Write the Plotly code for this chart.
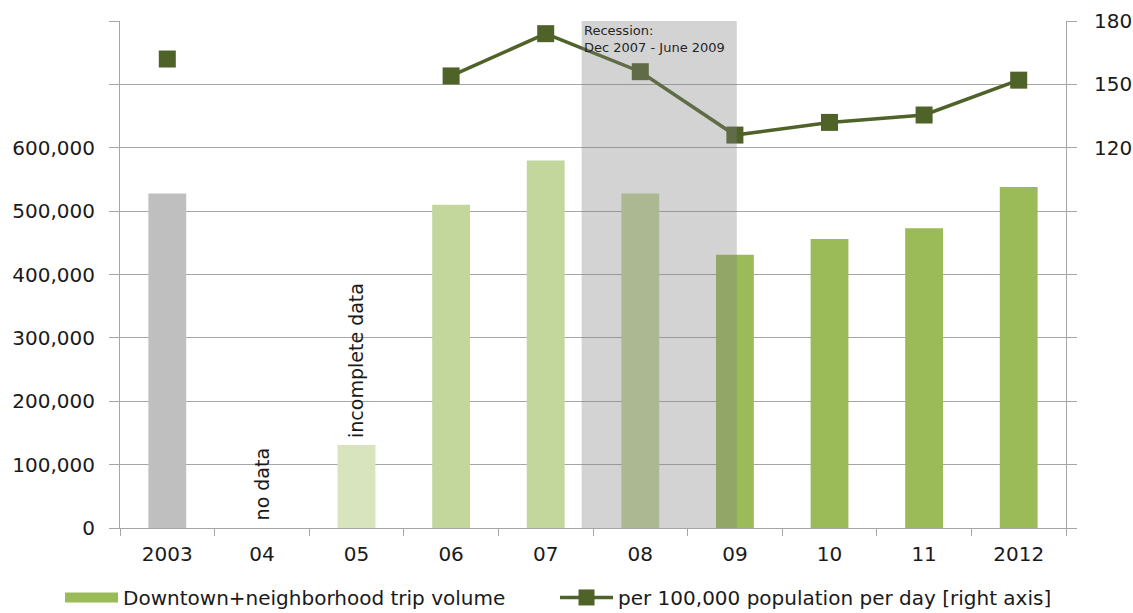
import plotly.graph_objects as go

# Years on the category axis
years = ["2003", "04", "05", "06", "07", "08", "09", "10", "11", "2012"]

# Downtown + neighborhood trip volume (left axis); 2004 has no data
trip_volume = [528000, None, 131000, 510000, 580000, 528000, 431000, 456000, 473000, 538000]

# Trips per 100,000 population per day (right axis)
per_100k = [162, None, None, 154, 174, 156, 126, 132, 135.5, 152]

bar_colors = ["#bfbfbf", "#d7e4bd", "#d7e4bd", "#c3d69b", "#c3d69b",
              "#c3d69b", "#9bbb59", "#9bbb59", "#9bbb59", "#9bbb59"]

left_ticks = list(range(0, 800001, 100000))
left_labels = [f"{v:,}" if v <= 600000 else "" for v in left_ticks]
right_ticks = list(range(-60, 181, 30))
right_labels = [str(v) if v >= 120 else "" for v in right_ticks]

# Recession period, in category-index units (Dec 2007 - June 2009)
recession_start = 4.38
recession_end = 6.02

GRID = "#a6a6a6"
TEXT = "#1a1a1a"
FONT = "DejaVu Sans"

fig = go.Figure()

fig.add_bar(
    x=years, y=trip_volume, width=0.4,
    marker=dict(color=bar_colors, line=dict(width=0)),
    showlegend=False, name="Downtown+neighborhood trip volume",
)

# Legend swatch for the bars (wide green band)
fig.add_scatter(
    x=[None], y=[None], mode="lines",
    line=dict(color="#9bbb59", width=12),
    name="Downtown+neighborhood trip volume",
)

fig.add_scatter(
    x=years, y=per_100k, yaxis="y2", mode="lines+markers",
    line=dict(color="#4f6228", width=3.5),
    marker=dict(symbol="square", size=17, color="#4f6228"),
    name="per 100,000 population per day [right axis]",
)

fig.add_shape(
    type="rect", xref="x", yref="paper",
    x0=recession_start, x1=recession_end, y0=0, y1=1,
    fillcolor="rgba(128,128,128,0.35)", line=dict(width=0), layer="above",
)

fig.add_annotation(
    x=recession_start, y=1, xref="x", yref="paper",
    xanchor="left", yanchor="top", xshift=0, yshift=0,
    text="Recession:<br>Dec 2007 - June 2009", showarrow=False, align="left",
    font=dict(family=FONT, size=13, color="#262626"),
)

# Notes above the 2004 and 2005 positions (category indices 1 and 2)
fig.add_annotation(
    x=1, y=0, xref="x", yref="y", textangle=-90,
    xanchor="center", yanchor="bottom", yshift=6,
    text="no data", showarrow=False,
    font=dict(family=FONT, size=19, color=TEXT),
)

fig.add_annotation(
    x=2, y=trip_volume[2], xref="x", yref="y", textangle=-90,
    xanchor="center", yanchor="bottom", yshift=5,
    text="incomplete data", showarrow=False,
    font=dict(family=FONT, size=19, color=TEXT),
)

fig.update_layout(
    width=1133, height=613,
    margin=dict(l=120, r=67, t=21, b=85, autoexpand=False),
    paper_bgcolor="white", plot_bgcolor="white",
    font=dict(family=FONT, size=20, color=TEXT),
    bargap=0.6,
    xaxis=dict(
        type="category", range=[-0.5, len(years) - 0.5],
        tickson="boundaries", ticks="outside", ticklen=7,
        tickcolor=GRID, showline=True, linecolor=GRID, linewidth=1,
        showgrid=False, ticklabelstandoff=8, automargin=False,
        tickfont=dict(family=FONT, size=20, color=TEXT),
    ),
    yaxis=dict(
        range=[0, 800000], tickvals=left_ticks, ticktext=left_labels,
        ticks="outside", ticklen=10, tickcolor=GRID,
        showgrid=True, gridcolor=GRID, gridwidth=1,
        showline=True, linecolor=GRID, zeroline=False,
        ticklabelstandoff=10, automargin=False,
        tickfont=dict(family=FONT, size=20, color=TEXT),
    ),
    yaxis2=dict(
        overlaying="y", side="right", range=[-60, 180],
        tickvals=right_ticks, ticktext=right_labels,
        ticks="outside", ticklen=10, tickcolor=GRID,
        showgrid=False, showline=True, linecolor=GRID, zeroline=False,
        ticklabelstandoff=13, automargin=False,
        tickfont=dict(family=FONT, size=20, color=TEXT),
    ),
    legend=dict(
        orientation="h",
        x=-0.0634, xanchor="left", y=-0.137, yanchor="middle",
        itemwidth=53, entrywidth=427, entrywidthmode="pixels",
        font=dict(family=FONT, size=20, color=TEXT),
        bgcolor="rgba(0,0,0,0)",
    ),
)

fig.write_html("out.html")
